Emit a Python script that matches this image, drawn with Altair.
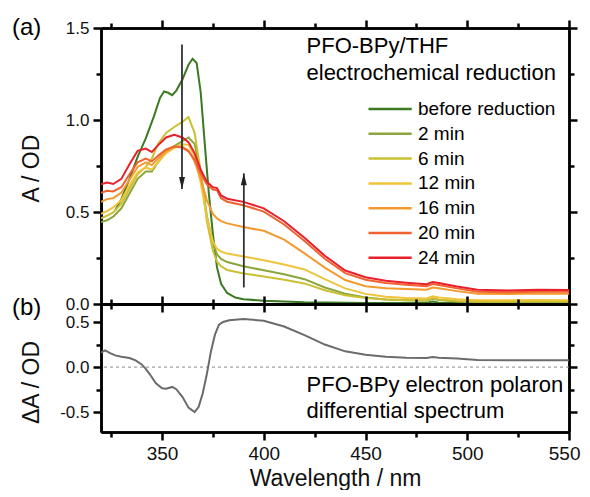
import altair as alt
import pandas as pd

# ---------------- data ----------------
SERIES = ["before reduction", "2 min", "6 min", "12 min", "16 min", "20 min", "24 min"]
COLORS = ["#3b7a22", "#8aa63c", "#c9c032", "#f0c43a", "#f29a30", "#f1622f", "#e8202c"]

WL_BEFORE = [327, 330, 334, 338, 342, 346, 349, 351, 353, 355, 357, 360, 363, 365, 367, 369,
             371, 373, 375, 377, 379, 382, 386, 390, 400, 420, 450, 480, 483, 486, 500, 520, 550]
A_BEFORE = [0.51, 0.57, 0.68, 0.80, 0.90, 1.02, 1.12, 1.155, 1.148, 1.135, 1.16, 1.22, 1.30, 1.333,
            1.31, 1.15, 0.87, 0.60, 0.38, 0.20, 0.11, 0.06, 0.035, 0.026, 0.018, 0.010, 0.006,
            0.005, 0.014, 0.007, 0.004, 0.003, 0.003]

WL = [320, 323, 326, 330, 334, 338, 342, 345, 348, 352, 356, 360, 363, 366, 369, 372, 375, 377,
      379, 382, 390, 400, 410, 420, 430, 440, 450, 460, 470, 480, 483, 486, 495, 505, 520, 535, 550]
A_2MIN = [0.445, 0.455, 0.475, 0.52, 0.60, 0.68, 0.72, 0.72, 0.77, 0.825, 0.858, 0.885, 0.905, 0.87,
          0.72, 0.48, 0.33, 0.27, 0.245, 0.228, 0.205, 0.183, 0.162, 0.135, 0.09, 0.056, 0.036,
          0.025, 0.02, 0.018, 0.028, 0.022, 0.014, 0.011, 0.010, 0.012, 0.011]
A_6MIN = [0.465, 0.48, 0.498, 0.545, 0.625, 0.705, 0.745, 0.79, 0.87, 0.93, 0.962, 0.99, 1.016, 0.93,
          0.72, 0.45, 0.29, 0.23, 0.205, 0.185, 0.166, 0.15, 0.132, 0.112, 0.075, 0.047, 0.032,
          0.024, 0.02, 0.02, 0.032, 0.025, 0.016, 0.012, 0.012, 0.014, 0.013]
A_12MIN = [0.49, 0.505, 0.525, 0.565, 0.645, 0.715, 0.742, 0.73, 0.77, 0.82, 0.848, 0.868, 0.865, 0.805,
           0.66, 0.47, 0.34, 0.30, 0.285, 0.274, 0.258, 0.238, 0.215, 0.188, 0.135, 0.085, 0.055,
           0.04, 0.033, 0.03, 0.042, 0.036, 0.026, 0.02, 0.02, 0.022, 0.021]
A_16MIN = [0.555, 0.57, 0.575, 0.605, 0.675, 0.745, 0.77, 0.755, 0.79, 0.83, 0.855, 0.855, 0.835, 0.775,
           0.68, 0.565, 0.49, 0.465, 0.45, 0.438, 0.418, 0.398, 0.35, 0.275, 0.198, 0.13, 0.097,
           0.086, 0.081, 0.078, 0.09, 0.085, 0.07, 0.056, 0.054, 0.057, 0.056]
A_20MIN = [0.605, 0.615, 0.612, 0.635, 0.705, 0.77, 0.79, 0.775, 0.805, 0.84, 0.856, 0.85, 0.83, 0.785,
           0.71, 0.65, 0.622, 0.618, 0.575, 0.556, 0.537, 0.502, 0.432, 0.342, 0.246, 0.168, 0.132,
           0.114, 0.104, 0.097, 0.108, 0.103, 0.085, 0.066, 0.064, 0.067, 0.066]
A_24MIN = [0.65, 0.66, 0.652, 0.68, 0.76, 0.832, 0.845, 0.826, 0.862, 0.905, 0.92, 0.905, 0.88, 0.82,
           0.73, 0.665, 0.635, 0.63, 0.59, 0.572, 0.555, 0.52, 0.45, 0.36, 0.262, 0.182, 0.145,
           0.126, 0.116, 0.108, 0.12, 0.114, 0.095, 0.077, 0.074, 0.078, 0.076]

WL_DIFF = [320, 322, 325, 327, 330, 334, 337, 340, 342, 344, 347, 350, 352, 355, 357, 360, 363, 366,
           368, 370, 372, 374, 376, 378, 380, 383, 390, 400, 410, 420, 430, 440, 450, 460, 470, 480,
           483, 486, 495, 505, 520, 535, 550]
DELTA_A = [0.16, 0.185, 0.15, 0.13, 0.115, 0.10, 0.075, 0.03, -0.02, -0.08, -0.18, -0.235, -0.24, -0.22,
           -0.245, -0.33, -0.45, -0.50, -0.44, -0.29, -0.08, 0.17, 0.36, 0.47, 0.50, 0.52, 0.533,
           0.515, 0.45, 0.355, 0.25, 0.175, 0.138, 0.115, 0.105, 0.10, 0.113, 0.105, 0.095, 0.08,
           0.075, 0.075, 0.075]

X_MAJOR = [350, 400, 450, 500, 550]
X_MINOR = [325, 375, 425, 475, 525]
Y_TOP_MAJOR = [0.0, 0.5, 1.0, 1.5]
Y_TOP_MINOR = [0.25, 0.75, 1.25]
Y_BOT_MAJOR = [-0.5, 0.0, 0.5]
Y_BOT_MINOR = [-0.25, 0.25]

# arrows (wavelength, start, tip)
ARROW_DOWN = {"wl": [359.8], "y0": [1.41], "y1": [0.625]}
ARROW_UP = {"wl": [390.2], "y0": [0.09], "y1": [0.71]}

NOTES_TOP = {"wl": [421, 421], "v": [1.365, 1.219], "t": ["PFO-BPy/THF", "electrochemical reduction"]}
NOTES_BOT = {"wl": [421, 421], "v": [-0.278, -0.567], "t": ["PFO-BPy electron polaron", "differential spectrum"]}

# ---------------- tables ----------------
rows = [{"wl": w, "A": a, "series": SERIES[0]} for w, a in zip(WL_BEFORE, A_BEFORE)]
for name, vals in zip(SERIES[1:], [A_2MIN, A_6MIN, A_12MIN, A_16MIN, A_20MIN, A_24MIN]):
    rows += [{"wl": w, "A": a, "series": name} for w, a in zip(WL, vals)]
df_top = pd.DataFrame(rows)
df_bot = pd.DataFrame({"wl": WL_DIFF, "dA": DELTA_A})

FONT = "Liberation Sans"
W, H_TOP, H_BOT = 468, 276, 128

xs = alt.Scale(domain=[320, 550], nice=False, zero=False)
ys_top = alt.Scale(domain=[0, 1.5], nice=False)
ys_bot = alt.Scale(domain=[-0.72, 0.70], nice=False, zero=False)

YLAB = "replace(format(datum.value, '.1f'), '\u2212', '-')"


def axis(orient, values, size, labels=False, **kw):
    return alt.Axis(orient=orient, values=values, tickSize=size, labels=labels, grid=False, **kw)


def yaxis(values, title, ty):
    return axis("left", values, 8, labels=True, labelExpr=YLAB, labelFontSize=17,
                labelPadding=4, title=title, titleX=-58, titleY=ty)


def axis_layers(data, yfield, yscale, ymajor, yminor):
    inv = alt.Chart(data).mark_point(opacity=0, size=1)
    b = inv.encode(
        x=alt.X("wl:Q", scale=xs, axis=axis("top", X_MAJOR, 8, title=None)),
        y=alt.Y(yfield, scale=yscale, axis=axis("right", ymajor, 8, title=None)),
    )
    c = inv.encode(
        x=alt.X("wl:Q", scale=xs, axis=axis("bottom", X_MINOR, 5, title=None)),
        y=alt.Y(yfield, scale=yscale, axis=axis("left", yminor, 5, title=None)),
    )
    d = inv.encode(
        x=alt.X("wl:Q", scale=xs, axis=axis("top", X_MINOR, 5, title=None)),
        y=alt.Y(yfield, scale=yscale, axis=axis("right", yminor, 5, title=None)),
    )
    return [b, c, d]


# ---------------- top panel ----------------
lines = alt.Chart(df_top).mark_line(strokeWidth=2, clip=True).encode(
    x=alt.X("wl:Q", scale=xs, axis=axis("bottom", X_MAJOR, 8, title=None)),
    y=alt.Y("A:Q", scale=ys_top, axis=yaxis(Y_TOP_MAJOR, "A / OD", 140)),
    color=alt.Color("series:N", sort=SERIES,
                    scale=alt.Scale(domain=SERIES, range=COLORS),
                    legend=alt.Legend(orient="none", legendX=279.6, legendY=71.5, title=None,
                                      symbolType="M-2.7,0L2.7,0", symbolSize=256,
                                      symbolStrokeWidth=2.5,
                                      labelFont=FONT, labelFontSize=19, labelColor="black",
                                      labelOffset=18.4, rowPadding=4.8)),
)


def arrow(d, shape, yoff):
    src = alt.Chart(pd.DataFrame(d))
    rule = src.mark_rule(color="#333333", strokeWidth=1.8).encode(
        x=alt.X("wl:Q", scale=xs, axis=None),
        y=alt.Y("y0:Q", scale=ys_top, axis=None),
        y2="y1:Q",
    )
    head = src.mark_point(shape=shape, filled=True, size=144, color="#222222", opacity=1,
                          yOffset=yoff).encode(
        x=alt.X("wl:Q", scale=xs, axis=None),
        y=alt.Y("y1:Q", scale=ys_top, axis=None),
    )
    return [rule, head]


notes_top = alt.Chart(pd.DataFrame(NOTES_TOP)).mark_text(
    align="left", baseline="alphabetic", font=FONT, fontSize=22, color="black"
).encode(
    x=alt.X("wl:Q", scale=xs, axis=None),
    y=alt.Y("v:Q", scale=ys_top, axis=None),
    text="t:N",
)

label_a = alt.Chart(pd.DataFrame({"t": ["(a)"]})).mark_text(
    align="left", baseline="middle", font=FONT, fontSize=24, color="black"
).encode(x=alt.value(-89), y=alt.value(0), text="t:N")

top = alt.layer(
    lines,
    *arrow(ARROW_DOWN, "M-0.5,-1L0.5,-1L0,1Z", -6),
    *arrow(ARROW_UP, "M-0.5,1L0.5,1L0,-1Z", 6),
    notes_top,
    label_a,
    *axis_layers(df_top, "A:Q", ys_top, Y_TOP_MAJOR, Y_TOP_MINOR),
).resolve_axis(x="independent", y="independent").properties(width=W, height=H_TOP)

# ---------------- bottom panel ----------------
diff = alt.Chart(df_bot).mark_line(strokeWidth=2, color="#6b6b6b", clip=True).encode(
    x=alt.X("wl:Q", scale=xs,
            axis=axis("bottom", X_MAJOR, 8, labels=True, format="d", labelFlush=True,
                      labelFlushOffset=11, labelPadding=4,
                      title="Wavelength / nm", titlePadding=4)),
    y=alt.Y("dA:Q", scale=ys_bot, axis=yaxis(Y_BOT_MAJOR, "\u0394A / OD", 78)),
)

zero = alt.Chart(pd.DataFrame({"v": [0.0]})).mark_rule(
    color="#8a8a8a", strokeWidth=1, strokeDash=[3, 3]
).encode(y=alt.Y("v:Q", scale=ys_bot, axis=None))

notes_bot = alt.Chart(pd.DataFrame(NOTES_BOT)).mark_text(
    align="left", baseline="alphabetic", font=FONT, fontSize=22, color="black"
).encode(
    x=alt.X("wl:Q", scale=xs, axis=None),
    y=alt.Y("v:Q", scale=ys_bot, axis=None),
    text="t:N",
)

label_b = alt.Chart(pd.DataFrame({"t": ["(b)"]})).mark_text(
    align="left", baseline="middle", font=FONT, fontSize=24, color="black"
).encode(x=alt.value(-89), y=alt.value(4), text="t:N")

bottom = alt.layer(
    zero,
    diff,
    notes_bot,
    label_b,
    *axis_layers(df_bot, "dA:Q", ys_bot, Y_BOT_MAJOR, Y_BOT_MINOR),
).resolve_axis(x="independent", y="independent").properties(width=W, height=H_BOT)

chart = alt.vconcat(top, bottom, spacing=0, bounds="flush").resolve_legend(
    color="independent"
).properties(
    padding={"left": 4, "right": 1, "top": 8, "bottom": 0}
).configure(font=FONT).configure_view(strokeWidth=0).configure_axis(
    domainColor="black", domainWidth=2.5, tickColor="black", tickWidth=2.5,
    labelFont=FONT, labelFontSize=19, labelColor="#111111", labelPadding=3,
    titleFont=FONT, titleFontSize=23, titleFontWeight="normal", titleColor="#111111",
)

chart.save("out.html", embed_options={"renderer": "svg", "actions": False})
